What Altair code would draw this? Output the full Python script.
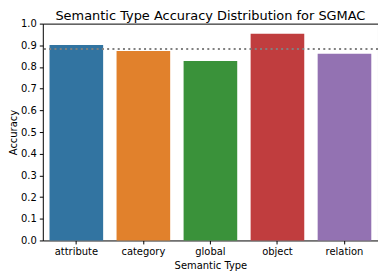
import altair as alt
import pandas as pd

categories = ["attribute", "category", "global", "object", "relation"]
accuracy = [0.901, 0.874, 0.828, 0.953, 0.861]
colors = ["#3274a1", "#e1812c", "#3a923a", "#c03d3e", "#9372b2"]
overall = [0.883]
yticks = [0.0, 0.1, 0.2, 0.3, 0.4, 0.5, 0.6, 0.7, 0.8, 0.9, 1.0]

df = pd.DataFrame({"Semantic Type": categories, "Accuracy": accuracy})
ref = pd.DataFrame({"v": overall})

font = "DejaVu Sans"
yaxis = alt.Axis(values=yticks, tickCount=11, format=".1f",
                 labelOverlap=False, title="Accuracy")
yscale = alt.Scale(domain=[0, 1.0], nice=False)

bars = alt.Chart(df).mark_bar().encode(
    x=alt.X("Semantic Type:N", sort=categories,
            scale=alt.Scale(paddingInner=0.2, paddingOuter=0.1),
            axis=alt.Axis(labelAngle=0, title="Semantic Type")),
    y=alt.Y("Accuracy:Q", scale=yscale, axis=yaxis),
    color=alt.Color("Semantic Type:N", sort=categories,
                    scale=alt.Scale(domain=categories, range=colors), legend=None),
)

rule = alt.Chart(ref).mark_rule(color="#808080", strokeDash=[2, 3.3], strokeWidth=2).encode(
    y=alt.Y("v:Q", scale=yscale, axis=yaxis)
)

chart = (bars + rule).properties(
    width=337, height=218,
    title=alt.TitleParams("Semantic Type Accuracy Distribution for SGMAC",
                          fontSize=13, font=font, fontWeight="normal",
                          color="black", offset=-4),
    autosize=alt.AutoSizeParams(type="none"),
    padding={"left": 35, "top": 15, "right": 0, "bottom": 30},
).configure_view(
    stroke="black", strokeWidth=1
).configure_axis(
    grid=False, domain=False, tickColor="black", tickSize=3.5,
    labelFont=font, labelFontSize=10, labelColor="black",
    titleFont=font, titleFontSize=10, titleColor="black", titleFontWeight="normal",
    labelPadding=3,
).configure_axisY(
    titlePadding=2
).configure_axisX(
    titlePadding=4
)

chart.save("out.html", embed_options={"renderer": "svg", "actions": False})
